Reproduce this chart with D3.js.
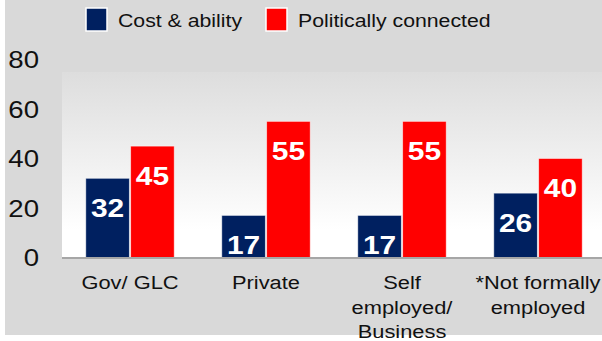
<!DOCTYPE html>
<html>
<head>
<meta charset="utf-8">
<script src="https://cdn.jsdelivr.net/npm/d3@7"></script>
<style>
	html, body { margin: 0; padding: 0; background: #ffffff; }
	svg { display: block; font-family: "Liberation Sans", Arial, sans-serif; }
</style>
</head>
<body>
<svg id="chart" width="602" height="341"></svg>
<script>
// Chart data
const categories = ["Gov/ GLC", "Private", "Self employed/ Business", "*Not formally employed"];
const category_lines = [["Gov/ GLC"], ["Private"], ["Self", "employed/", "Business"], ["*Not formally", "employed"]];
const series_names = ["Cost & ability", "Politically connected"];
const cost_ability = [32, 17, 17, 26];
const politically_connected = [45, 55, 55, 40];
const y_ticks = [0, 20, 40, 60, 80];

const series_colors = ["#002060", "#ff0000"];
const stretch = 1.15; // the original picture is a bit wider than tall

const svg = d3.select("#chart");

// Background panels
svg.append("rect")
   .attr("x", 5).attr("y", 0)
   .attr("width", 597).attr("height", 335)
   .attr("fill", "#d9d9d9");

const defs = svg.append("defs");
const grad = defs.append("linearGradient")
   .attr("id", "plot_bg")
   .attr("x1", 0).attr("y1", 0).attr("x2", 0).attr("y2", 1);
grad.append("stop").attr("offset", "0%").attr("stop-color", "#dddddd");
grad.append("stop").attr("offset", "85%").attr("stop-color", "#ffffff");
grad.append("stop").attr("offset", "100%").attr("stop-color", "#ffffff");

// Scales
const x0 = d3.scaleBand()
   .domain(categories)
   .range([62, 606])
   .paddingInner(0.35)
   .paddingOuter(0.175);

const x1 = d3.scaleBand()
   .domain(series_names)
   .range([0, x0.bandwidth()])
   .paddingInner(0.03);

const y = d3.scaleLinear()
   .domain([0, 80])
   .range([257.5, 59.5]);

svg.append("rect")
   .attr("x", 62).attr("y", 72)
   .attr("width", 540).attr("height", y(0) - 72)
   .attr("fill", "url(#plot_bg)");

/**
 * Put a horizontally stretched text at (x, y)
 */
function stretched_text(parent, x, y, str){
	return parent.append("text")
	   .attr("transform", `translate(${x},${y}) scale(${stretch},1)`)
	   .text(str);
}

// Y axis labels
const y_axis = svg.append("g")
   .attr("font-size", 24)
   .attr("fill", "#111")
   .attr("text-anchor", "end");
y_ticks.forEach(function(t){
	stretched_text(y_axis, 39, y(t) + 8.5, t);
});

// Bars
const rows = categories.map(function(c, i){
	return {cat: c, values: [cost_ability[i], politically_connected[i]]};
});

const groups = svg.selectAll("g.group")
   .data(rows)
   .enter()
   .append("g")
   .attr("class", "group")
   .attr("transform", function(d){return `translate(${x0(d.cat)},0)`});

groups.selectAll("rect")
   .data(function(d){return d.values.map(function(v, j){return {name: series_names[j], value: v, idx: j}})})
   .enter()
   .append("rect")
   .attr("x", function(d){return x1(d.name)})
   .attr("y", function(d){return y(d.value)})
   .attr("width", x1.bandwidth())
   .attr("height", function(d){return y(0) - y(d.value)})
   .attr("fill", function(d){return series_colors[d.idx]})
   .attr("stroke", "#ffffff")
   .attr("stroke-opacity", 0.6)
   .attr("stroke-width", 0.8);

// Value labels, inside the top of each bar
groups.each(function(d){
	const g = d3.select(this);
	d.values.forEach(function(v, j){
		stretched_text(g, x1(series_names[j]) + x1.bandwidth() / 2, y(v) + 38.5, v)
		   .attr("text-anchor", "middle")
		   .attr("font-size", 26)
		   .attr("font-weight", "bold")
		   .attr("fill", "#ffffff");
	});
});

// Category axis line
svg.append("line")
   .attr("x1", 62).attr("x2", 602)
   .attr("y1", y(0) + 0.5).attr("y2", y(0) + 0.5)
   .attr("stroke", "#a6a6a6")
   .attr("stroke-width", 2);

// Category labels
const x_axis = svg.append("g")
   .attr("font-size", 19)
   .attr("fill", "#111")
   .attr("text-anchor", "middle");
categories.forEach(function(c, i){
	category_lines[i].forEach(function(line, k){
		stretched_text(x_axis, x0(c) + x0.bandwidth() / 2, 289 + k * 24.5, line);
	});
});

// Legend
const legend_x = [86, 266];
const legend = svg.append("g").attr("font-size", 18.5).attr("fill", "#111");
series_names.forEach(function(name, j){
	legend.append("rect")
	   .attr("x", legend_x[j]).attr("y", 8)
	   .attr("width", 21).attr("height", 23)
	   .attr("fill", series_colors[j])
	   .attr("stroke", "#ffffff")
	   .attr("stroke-width", 1.5);
	stretched_text(legend, legend_x[j] + 32, 27, name);
});
</script>
</body>
</html>
